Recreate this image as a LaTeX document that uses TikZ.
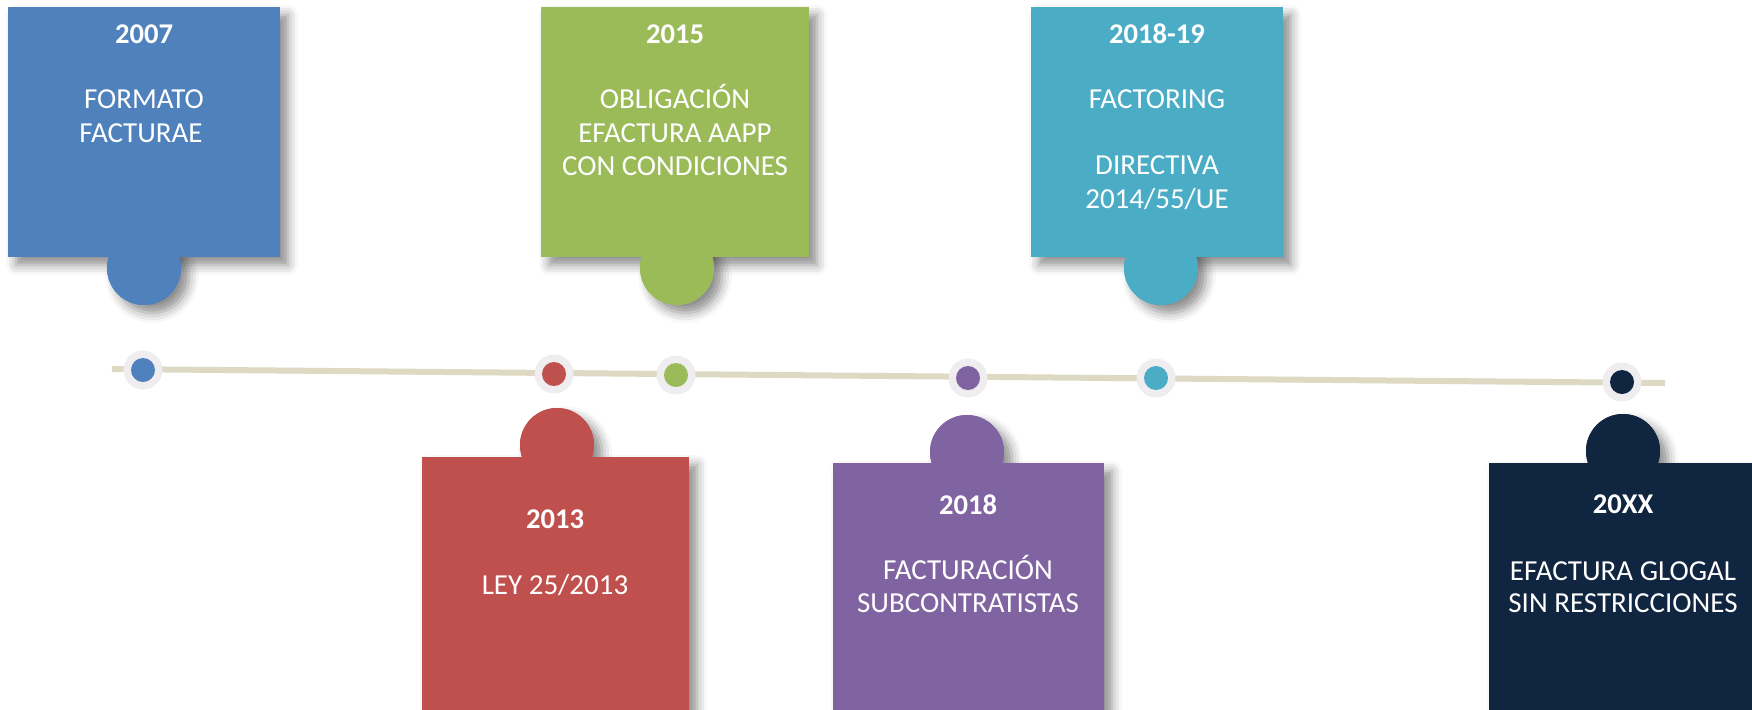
\documentclass[tikz,border=0pt]{standalone}
\usepackage{fontspec}
\setmainfont{Carlito}
\usetikzlibrary{shadows.blur}
\definecolor{cblue}{HTML}{4F81BD}
\definecolor{cred}{HTML}{C0504D}
\definecolor{cgreen}{HTML}{9BBB59}
\definecolor{cpurple}{HTML}{8064A2}
\definecolor{ccyan}{HTML}{4BACC6}
\definecolor{cnavy}{HTML}{10253F}
\definecolor{linecol}{HTML}{DDD9C3}
\definecolor{ringgray}{HTML}{EFEDEF}
\tikzset{
  card/.style={fill=#1, blur shadow={shadow xshift=4pt, shadow yshift=-4pt, shadow blur radius=5pt, shadow opacity=45}},
  plain/.style={fill=#1},
  yr/.style={text=white, font=\fontsize{14.3}{17}\selectfont\bfseries, anchor=base, inner sep=0pt},
  txt/.style={text=white, font=\fontsize{14.5}{17}\selectfont, anchor=base, inner sep=0pt},
  ring/.style={circle, fill=ringgray, minimum size=19.5pt, inner sep=0pt},
  tdot/.style={circle, fill=#1, minimum size=12pt, inner sep=0pt},
  tline/.style={line width=3pt, linecol},
}
\begin{document}
\begin{tikzpicture}[x=0.5pt,y=-0.5pt]
\useasboundingbox (0,0) rectangle (1752,709);
\clip (0,0) rectangle (1752,709);
% timeline
\coordinate (tlA) at (112,369);
\coordinate (tlB) at (1665,383);
\draw[tline] (tlA) -- (tlB);
% dots
\foreach \n/\x/\y/\c in {d1/143/370/cblue, d2/554/374/cred, d3/676/375/cgreen, d4/968/378/cpurple, d5/1156/378/ccyan, d6/1622/382/cnavy}{
  \node[ring] (\n r) at (\x,\y) {};
  \node[tdot=\c] (\n) at (\x,\y) {};
}
% top cards
\foreach \c/\xa/\xb/\cx in {cblue/8/280/144, cgreen/541/809/677, ccyan/1031/1283/1161}{
  \path[card=\c] (\xa,7) rectangle (\xb,257);
  \path[card=\c] (\cx,268) circle[radius=18.5pt];
  \path[plain=\c] (\xa,7) rectangle (\xb,257);
  \path[plain=\c] (\cx,268) circle[radius=18.5pt];
}
% bottom cards
\foreach \c/\xa/\xb/\ya/\cx/\cy in {cred/422/689/457/557/445, cpurple/833/1104/463/967/452, cnavy/1489/1770/463/1623/451}{
  \path[card=\c] (\cx,\cy) circle[radius=18.5pt];
  \path[card=\c] (\xa,\ya) rectangle (\xb,730);
  \path[plain=\c] (\cx,\cy) circle[radius=18.5pt];
  \path[plain=\c] (\xa,\ya) rectangle (\xb,730);
}
% texts
\node[yr]  (y1)  at (144,43)  {2007};
\node[txt] (t1a) at (144,108) {FORMATO};
\node[txt] (t1b) at (141,142) {FACTURAE};

\node[yr]  (y2)  at (675,43)  {2015};
\node[txt] (t2a) at (675,108) {OBLIGACIÓN};
\node[txt] (t2b) at (675,142) {EFACTURA AAPP};
\node[txt] (t2c) at (675,175) {CON CONDICIONES};

\node[yr]  (y3)  at (1157,43)  {2018-19};
\node[txt] (t3a) at (1157,108) {FACTORING};
\node[txt] (t3b) at (1157,174) {DIRECTIVA};
\node[txt] (t3c) at (1157,208) {2014/55/UE};

\node[yr]  (y4)  at (555,528) {2013};
\node[txt] (t4a) at (555,594) {LEY 25/2013};

\node[yr]  (y5)  at (968,514) {2018};
\node[txt] (t5a) at (968,579) {FACTURACIÓN};
\node[txt] (t5b) at (968,612) {SUBCONTRATISTAS};

\node[yr]  (y6)  at (1623,513) {20XX};
\node[txt] (t6a) at (1623,580) {EFACTURA GLOGAL};
\node[txt] (t6b) at (1623,612) {SIN RESTRICCIONES};
\end{tikzpicture}
\end{document}
